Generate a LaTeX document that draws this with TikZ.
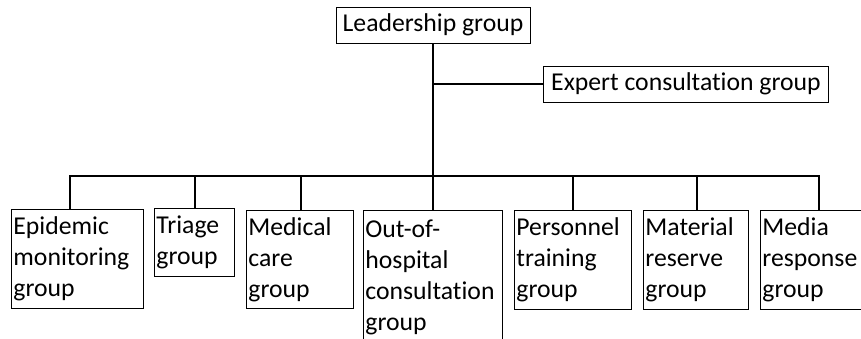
\documentclass[tikz,border=0pt]{standalone}
\usepackage{fontspec}
\setmainfont[Ligatures=NoCommon]{Carlito}

\tikzset{
  groupbox/.style={draw,line width=0.9pt,anchor=north west,align=left,
    inner xsep=2pt,inner ysep=0pt,
    font=\fontsize{25.7}{31}\selectfont},
  headbox/.style={draw,line width=0.9pt,inner sep=0pt,minimum height=36pt,
    font=\fontsize{25.7}{31}\selectfont},
  link/.style={line width=2.7pt},
}

\begin{document}
\begin{tikzpicture}[x=1pt,y=-1pt]
\useasboundingbox (0,0) rectangle (861,339);
            % Top
\node[headbox,minimum width=194pt] (lead) at (433,25) {Leadership group};
\node[headbox,minimum width=285pt,anchor=west] (expert) at (543,84) {Expert consultation group};
            % Groups
\node[groupbox,text width=128pt,minimum height=99pt] (epi) at (11,209) {Epidemic\\monitoring\\group};
\node[groupbox,text width=76pt,minimum height=68pt] (triage) at (154,208) {Triage\\group};
\node[groupbox,text width=103pt,minimum height=98pt] (medical) at (246,210) {Medical\\care\\group};
\node[groupbox,text width=135pt,minimum height=134pt] (outof) at (363,210) {Out-of-\\hospital\\consultation\\group};
\node[groupbox,text width=113pt,minimum height=99pt] (personnel) at (514,210) {Personnel\\training\\group};
\node[groupbox,text width=101pt,minimum height=99pt] (material) at (643,210) {Material\\reserve\\group};
\node[groupbox,text width=113pt,minimum height=99pt] (media) at (760,210) {Media\\response\\group};
%Trunk
\coordinate (bus) at (433,176);
\draw[link] (lead.south) -- (bus);
\draw[link] (lead.south |- expert.west) -- (expert.west);
%Bus
\coordinate (epitop) at (70,209);
\coordinate (mediatop) at (819,210);
\draw[link] (epitop) |- (bus) -| (mediatop);
\draw[link] (bus) -- (bus |- outof.north);
\foreach \g/\x in {triage/195,medical/301,personnel/573,material/697}
  \draw[link] (\x,176) -- (\x,176 |- \g.north);
\end{tikzpicture}
\end{document}
